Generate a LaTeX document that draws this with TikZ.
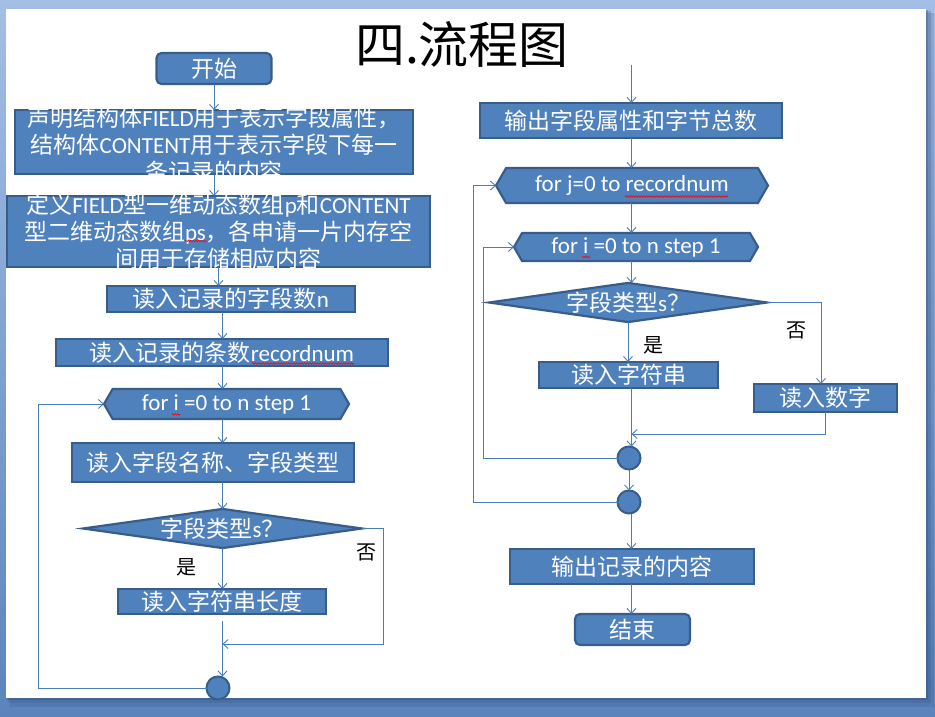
\documentclass[tikz,border=0pt]{standalone}
\usepackage{fontspec}
\setmainfont{Carlito}
\newfontfamily\zhf{Noto Sans CJK SC}
\newcommand\zh[1]{{\zhf #1}}
\usetikzlibrary{arrows.meta,shapes.geometric,shapes.symbols,decorations.pathmorphing}
\definecolor{boxfill}{HTML}{4F81BD}
\definecolor{boxline}{HTML}{385D8A}
\definecolor{wireblue}{HTML}{4A7EBB}
\definecolor{deck}{HTML}{5B84BC}
\definecolor{decktop}{HTML}{A4BFE6}
\definecolor{shadowc}{HTML}{2F4F7F}

\begin{document}
\begin{tikzpicture}[x=1pt,y=-1pt,
  every node/.style={inner sep=0pt, outer sep=0pt},
  boxbase/.style={fill=boxfill, draw=boxline, line width=2.2pt, text=white,
    font=\fontsize{23}{27}\selectfont},
  proc/.style={boxbase, rectangle},
  term/.style={boxbase, rectangle, rounded corners=5pt},
  loophead/.style={boxbase, signal, signal to=west and east, signal pointer angle=120},
  decide/.style={boxbase, diamond, aspect=7},
  joint/.style={circle, fill=boxfill, draw=boxline, line width=2pt, minimum size=23pt},
  boxtext/.style={text=white, align=center, font=\fontsize{23}{27}\selectfont},
  answer/.style={text=black, font=\zhf\fontsize{20}{20}\selectfont},
  conn/.style={draw=wireblue, line width=0.9pt, -{Straight Barb[length=5pt,width=9pt]}},
  wire/.style={draw=wireblue, line width=0.9pt},
  spell/.style={draw=red, line width=0.6pt, decorate,
    decoration={zigzag, amplitude=0.8pt, segment length=2.6pt}}
]
\useasboundingbox (0,0) rectangle (935,717);

% slide backdrop, drop shadow and page
\shade[top color=decktop, bottom color=deck] (0,0) rectangle (935,717);
\fill[shadowc, opacity=0.2] (10,13) rectangle (934,707);
\fill[shadowc, opacity=0.25] (8,11) rectangle (931,703);
\fill[shadowc, opacity=0.3] (7,10) rectangle (928,700);
\fill[white] (6,9) rectangle (926,698);

% title
\node (title) at (462,45) {\zhf\fontsize{50}{50}\selectfont 四.流程图};

% ---------- left column: reading the fields ----------
\node[term, minimum width=115, minimum height=31] (start) at (214,68.5) {\zh{开始}};
\node[proc, minimum width=398, minimum height=64] (decl) at (214,142) {};
\node[boxtext] (declt) at ([yshift=-3pt]decl.center)
  {\zh{声明结构体}FIELD\zh{用于表示字段属性，}\\
   \zh{结构体}CONTENT\zh{用于表示字段下每一}\\
   \zh{条记录的内容}};
\node[proc, minimum width=423, minimum height=71] (alloc) at (218.5,231.5) {};
\node[boxtext] (alloct) at ([yshift=-0.5pt]alloc.center)
  {\zh{定义}FIELD\zh{型一维动态数组}p\zh{和}CONTENT\\
   \zh{型二维动态数组}ps\zh{，各申请一片内存空}\\
   \zh{间用于存储相应内容}};
\node[proc, minimum width=248, minimum height=26] (readn) at (231,299) {\zh{读入记录的字段数}n};
\node[proc, minimum width=332, minimum height=27] (readrec) at (222,352.5) {\zh{读入记录的条数}recordnum};
\node[loophead, minimum width=245, minimum height=30] (fori) at (226.5,404) {for i =0 to n step 1};
\node[proc, minimum width=282, minimum height=39] (readname) at (213,462.5) {\zh{读入字段名称、字段类型}};
\node[decide, minimum width=279, minimum height=39] (typel) at (222.5,528.5) {\zh{字段类型}s\zh{？}};
\node[proc, minimum width=208, minimum height=25] (readlen) at (222,601.5) {\zh{读入字符串长度}};
\node[joint] (endl) at (218,688) {};
\node[answer] (yesl) at (186,567) {是};
\node[answer] (nol) at (366,552) {否};
\coordinate (joinl) at (222.5,644);

\draw[conn] (start.south) -- (start.south |- decl.north);
\draw[conn] (decl.south) -- (decl.south |- alloc.north);
\draw[conn] (alloc.south) -- (alloc.south |- readn.north);
\draw[conn] (readn.south -| typel.north) -- (readrec.north -| typel.north);
\draw[conn] (readrec.south -| typel.north) -- (fori.north -| typel.north);
\draw[conn] (fori.south -| typel.north) -- (readname.north -| typel.north);
\draw[conn] (readname.south -| typel.north) -- (typel.north);
\draw[conn] (typel.south) -- (typel.south |- readlen.north);
\draw[conn] ([yshift=-7pt]readlen.south -| typel.north) -- (endl.north -| typel.north);
\draw[conn] (typel.east) -- ++(21,0) |- (joinl);
\draw[wire] (endl.west) -| ([xshift=-66pt]fori.west);
\draw[conn] ([xshift=-66pt]fori.west) -- (fori.west);

% ---------- right column: printing the records ----------
\coordinate (enter) at (631.5,65);
\node[proc, minimum width=302, minimum height=35] (outattr) at (631,120.5) {\zh{输出字段属性和字节总数}};
\node[loophead, minimum width=272, minimum height=35] (forj) at (632,185.5) {for j=0 to recordnum};
\node[loophead, minimum width=244, minimum height=28] (forir) at (636,247) {for i =0 to n step 1};
\node[decide, minimum width=278, minimum height=39] (typer) at (628,302.5) {\zh{字段类型}s\zh{？}};
\node[proc, minimum width=179, minimum height=26] (readstr) at (628.5,375) {\zh{读入字符串}};
\node[proc, minimum width=143, minimum height=28] (readnum) at (825.5,398) {\zh{读入数字}};
\node[joint] (endi) at (629,458) {};
\node[joint] (endj) at (629,502) {};
\node[proc, minimum width=244, minimum height=35] (outrec) at (632,566.5) {\zh{输出记录的内容}};
\node[term, minimum width=115, minimum height=31] (stop) at (632.5,629.5) {\zh{结束}};
\node[answer] (yesr) at (653,345) {是};
\node[answer] (nor) at (796,330) {否};
\coordinate (joinr) at (631.5,434);

\draw[conn] (enter) -- (enter |- outattr.north);
\draw[conn] (outattr.south -| enter) -- (forj.north -| enter);
\draw[conn] (forj.south -| enter) -- (forir.north -| enter);
\draw[conn] (forir.south -| enter) -- (typer.north -| enter);
\draw[conn] (typer.south) -- (typer.south |- readstr.north);
\draw[conn] (typer.east) -| ([xshift=-4.5pt]readnum.north);
\draw[conn] (readnum.south) |- (joinr);
\draw[conn] (readstr.south -| enter) -- (endi.north -| enter);
\draw[conn] (endi.south) -- (endj.north);
\draw[wire] (endi.west) -| ([xshift=-31pt]forir.west);
\draw[conn] ([xshift=-31pt]forir.west) -- (forir.west);
\draw[wire] (endj.west) -| ([xshift=-23pt]forj.west);
\draw[conn] ([xshift=-23pt]forj.west) -- (forj.west);
\draw[conn] (endj.south -| enter) -- (outrec.north -| enter);
\draw[conn] (outrec.south -| enter) -- (stop.north -| enter);

% spell-checker squiggles under unknown words
\draw[spell] (252,363.5) -- (354,363.5);
\draw[spell] (172,414.5) -- (180,414.5);
\draw[spell] (185,241) -- (207,241);
\draw[spell] (625,196.5) -- (728,196.5);
\draw[spell] (582,257) -- (590,257);
\end{tikzpicture}
\end{document}
